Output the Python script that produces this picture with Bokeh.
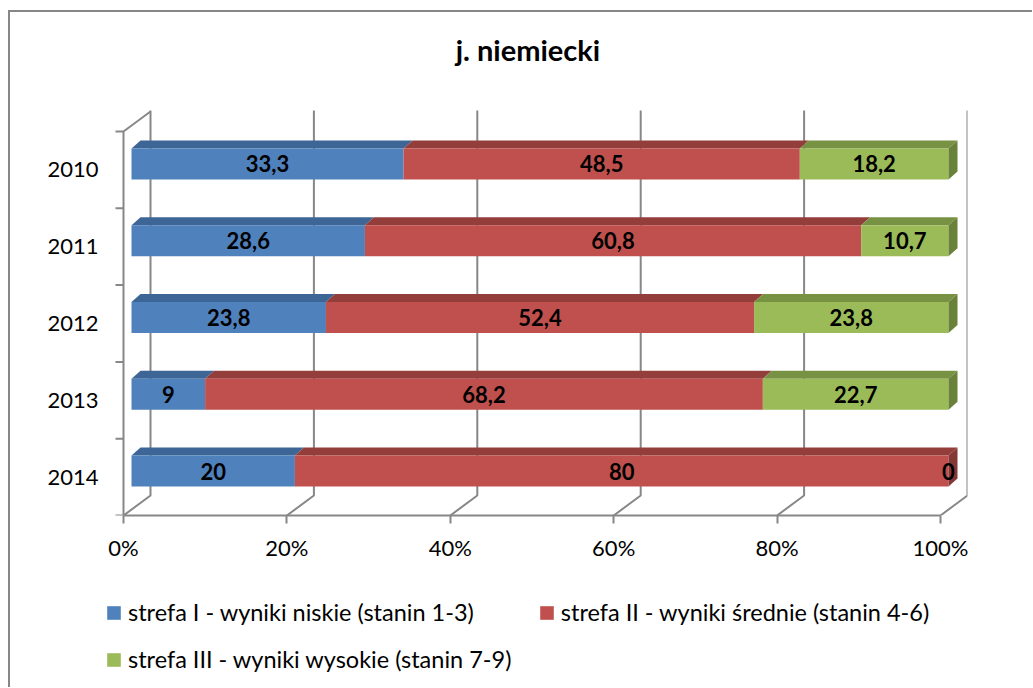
from bokeh.plotting import figure
from bokeh.layouts import column
from bokeh.models import (Range1d, FixedTicker, Legend, LegendItem, ColumnDataSource,
                          PrintfTickFormatter)
from bokeh.core.properties import value
from bokeh.embed import file_html
from bokeh.resources import INLINE

# ---------------- data ----------------
title_text = "j. niemiecki"
years = ["2010", "2011", "2012", "2013", "2014"]
strefa1 = [33.3, 28.6, 23.8, 9, 20]
strefa2 = [48.5, 60.8, 52.4, 68.2, 80]
strefa3 = [18.2, 10.7, 23.8, 22.7, 0]
series_names = ["strefa I - wyniki niskie (stanin 1-3)",
                "strefa II - wyniki średnie (stanin 4-6)",
                "strefa III - wyniki wysokie (stanin 7-9)"]
x_ticks = [0, 20, 40, 60, 80, 100]

# ---------------- style ----------------
FONT = "Lato"
front_colors = ["#4F81BD", "#C0504D", "#9BBB59"]
top_colors = ["#3D6696", "#943E3C", "#789244"]
side_colors = ["#36597F", "#853735", "#6A8139"]
GRID = "#878787"

PX_X = 8.17     # pixels per percent
PX_Y = 76.8     # pixels per category
LEFT_PAD = 17   # px between frame left and the 0% plane
FRAME_W, FRAME_H = 861, 503
BACK_TOP = 405 / PX_Y                        # top of the back wall
WALL_DX, WALL_DY = 27 / PX_X, 20 / PX_Y     # depth of the 3D box
BAR_OX, BAR_OY = 8 / PX_X, 6 / PX_Y         # bar front plane offset
BAR_H = 31 / PX_Y
TOP_DX, TOP_DY = 9 / PX_X, 8 / PX_Y
TICK = 8 / PX_X

n = len(years)
W, H = 1022, 563
ML = 96

x0 = -LEFT_PAD / PX_X
p = figure(width=W, height=H, output_backend="svg", toolbar_location=None,
           x_range=Range1d(x0, x0 + FRAME_W / PX_X), y_range=Range1d(0, FRAME_H / PX_Y),
           min_border_left=ML, min_border_top=0,
           min_border_right=W - ML - FRAME_W, min_border_bottom=H - FRAME_H)
p.outline_line_color = None
p.xgrid.visible = False
p.ygrid.visible = False
p.background_fill_color = "white"
p.border_fill_color = "white"

# title (text drawn in the frame, above the 3D box)
p.text([50 - 0.5], [6.07], text=[title_text], text_align="center", text_baseline="middle",
       text_font=value(FONT), text_font_size="29px", text_font_style="bold", text_color="#000000")

# ---------------- 3D walls / gridlines ----------------
gx = [[t, t + WALL_DX, t + WALL_DX] for t in x_ticks]
gy = [[0, WALL_DY, BACK_TOP] for t in x_ticks]
p.multi_line(gx, gy, line_color=GRID, line_width=2)
# left wall front edge with its diagonal
p.line([x_ticks[0], x_ticks[0], x_ticks[0] + WALL_DX], [0, n, n + WALL_DY],
       line_color=GRID, line_width=2)
# category ticks on the left wall
p.segment(x0=[x_ticks[0] - TICK] * (n + 1), y0=list(range(n + 1)),
          x1=[x_ticks[0]] * (n + 1), y1=list(range(n + 1)), line_color=GRID, line_width=2)

# ---------------- bars ----------------
series = [strefa1, strefa2, strefa3]
totals = [sum(v) for v in zip(*series)]
yc = [n - 0.5 - i for i in range(n)]
cum = [0.0] * n
label_x, label_y, label_t = [], [], []
last_nonzero = [0] * n
for s, vals in enumerate(series):
    left = [cum[i] for i in range(n)]
    right = [cum[i] + vals[i] / totals[i] * 100 for i in range(n)]
    bottom = [yc[i] - BAR_H / 2 + BAR_OY for i in range(n)]
    top = [yc[i] + BAR_H / 2 + BAR_OY for i in range(n)]
    txs = [[left[i] + BAR_OX, right[i] + BAR_OX, right[i] + BAR_OX + TOP_DX, left[i] + BAR_OX + TOP_DX]
           for i in range(n)]
    tys = [[top[i], top[i], top[i] + TOP_DY, top[i] + TOP_DY] for i in range(n)]
    p.patches(txs, tys, fill_color=top_colors[s], line_color=None)
    src = ColumnDataSource(dict(left=[l + BAR_OX for l in left], right=[r + BAR_OX for r in right],
                                bottom=bottom, top=top))
    p.quad(left="left", right="right", bottom="bottom", top="top", source=src,
           fill_color=front_colors[s], line_color=None)
    for i in range(n):
        label_x.append((left[i] + right[i]) / 2 + BAR_OX)
        label_y.append(yc[i] + BAR_OY)
        label_t.append(f"{vals[i]:g}".replace(".", ","))
        if vals[i] > 0:
            last_nonzero[i] = s
    cum = right

# right side faces
sxs, sys_, scol = [], [], []
for i in range(n):
    xe = cum[i] + BAR_OX
    b = yc[i] - BAR_H / 2 + BAR_OY
    t = yc[i] + BAR_H / 2 + BAR_OY
    sxs.append([xe, xe, xe + TOP_DX, xe + TOP_DX])
    sys_.append([b, t, t + TOP_DY, b + TOP_DY])
    scol.append(side_colors[last_nonzero[i]])
p.patches(sxs, sys_, fill_color=scol, line_color=None)

p.text(label_x, label_y, text=label_t, text_align="center", text_baseline="middle",
       text_font=value(FONT), text_font_size="22px", text_font_style="bold", text_color="#000000")

# ---------------- axes ----------------
xa = p.xaxis[0]
xa.ticker = FixedTicker(ticks=x_ticks)
xa.formatter = PrintfTickFormatter(format="%d%%")
xa.bounds = (x_ticks[0], x_ticks[-1])
xa.axis_line_color = GRID
xa.axis_line_width = 2
xa.major_tick_line_color = GRID
xa.major_tick_line_width = 2
xa.major_tick_in = 0
xa.major_tick_out = 8
xa.minor_tick_line_color = None
xa.major_label_standoff = 10
xa.major_label_text_font = FONT
xa.major_label_text_font_size = "22px"
xa.major_label_text_color = "#000000"

ya = p.yaxis[0]
ya.ticker = FixedTicker(ticks=yc)
ya.major_label_overrides = {yc[i]: years[i] for i in range(n)}
ya.axis_line_color = None
ya.major_tick_line_color = None
ya.minor_tick_line_color = None
ya.major_tick_in = 0
ya.major_tick_out = 0
ya.minor_tick_in = 0
ya.minor_tick_out = 0
ya.major_label_standoff = 8
ya.major_label_text_font = FONT
ya.major_label_text_font_size = "22px"
ya.major_label_text_color = "#000000"

# ---------------- legend (own strip below the chart) ----------------
LH = 112
pl = figure(width=W, height=LH, output_backend="svg", toolbar_location=None,
            x_range=Range1d(0, 10), y_range=Range1d(0, 10), x_axis_type=None, y_axis_type=None,
            min_border=0, min_border_left=0, min_border_right=0, min_border_top=0,
            min_border_bottom=0)
pl.outline_line_color = None
pl.xgrid.visible = False
pl.ygrid.visible = False
# zero-size swatch renderers (only used for the legend glyphs)
leg_renderers = [pl.quad(left=[0], right=[0], bottom=[0], top=[0], fill_color=c, line_color=None)
                 for c in front_colors]
leg_common = dict(orientation="horizontal", padding=0, margin=0, border_line_color=None,
                  background_fill_alpha=0, glyph_width=17, glyph_height=17, label_height=17,
                  label_standoff=6, label_text_font=FONT, label_text_font_size="23.5px",
                  label_text_color="#000000", spacing=64)
leg1 = Legend(items=[LegendItem(label=series_names[0], renderers=[leg_renderers[0]]),
                     LegendItem(label=series_names[1], renderers=[leg_renderers[1]])],
              location=(-1, 61), **leg_common)
leg2 = Legend(items=[LegendItem(label=series_names[2], renderers=[leg_renderers[2]])],
              location=(-1, 14), **leg_common)
pl.add_layout(leg1)
pl.add_layout(leg2)

layout = column(p, pl, spacing=0)
layout.styles = {"margin-left": "8px", "margin-top": "10px",
                 "border-left": "2px solid #878787", "border-top": "2px solid #878787"}

open("out.html", "w").write(file_html(layout, INLINE))
